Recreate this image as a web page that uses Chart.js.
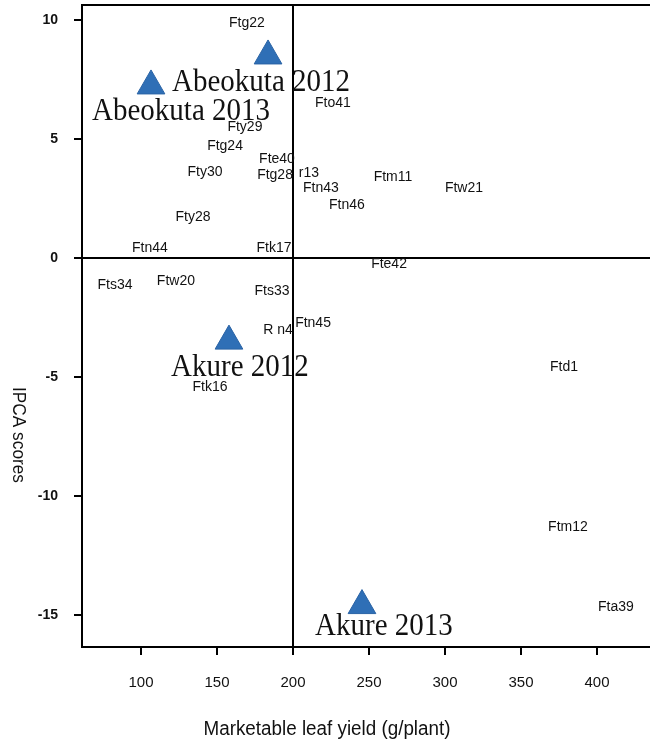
<!DOCTYPE html>
<html>
<head>
<meta charset="utf-8">
<script src="https://cdn.jsdelivr.net/npm/chart.js@4"></script>
<style>
  html, body { margin: 0; padding: 0; background: #fff; }
</style>
</head>
<body>
<canvas id="c" width="650" height="752"></canvas>
<script>
// genotypes (text labels placed at their point)
const genoNames = ['Ftg22', 'Fto41', 'Fty29', 'Ftg24', 'Fte40', 'Fty30', 'Ftg28', 'r13', 'Ftn43',
  'Ftn46', 'Ftm11', 'Ftw21', 'Fty28', 'Ftn44', 'Ftk17', 'Fte42', 'Fts34', 'Ftw20', 'Fts33',
  'Ftn45', 'R n4', 'Ftk16', 'Ftd1', 'Ftm12', 'Fta39'];
const genoYield = [169.7, 226.3, 168.4, 155.3, 189.5, 142.1, 188.2, 210.5, 218.4,
  235.5, 265.8, 312.5, 134.2, 105.9, 187.5, 263.2, 82.9, 123.0, 186.2,
  213.2, 190.1, 145.4, 378.3, 380.9, 412.5];
const genoIPCA = [9.87, 6.51, 5.50, 4.71, 4.16, 3.61, 3.49, 3.57, 2.94,
  2.23, 3.40, 2.94, 1.72, 0.42, 0.42, -0.25, -1.13, -0.97, -1.39,
  -2.73, -3.03, -5.42, -4.58, -11.3, -14.66];

// environments (blue triangles)
const envNames = ['Abeokuta 2012', 'Abeokuta 2013', 'Akure 2012', 'Akure 2013'];
const envYield = [183.6, 106.6, 157.9, 245.4];
const envIPCA = [8.49, 7.23, -3.49, -14.6];

const xTickValues = [100, 150, 200, 250, 300, 350, 400];
const yTickValues = [-15, -10, -5, 0, 5, 10];

// label offsets from the triangle, in px
const envLabelOffset = [[-7, 27], [30, 26], [11, 26], [22, 21]];

const sans = '"Liberation Sans", Arial, sans-serif';

const labelPlugin = {
  id: 'pointLabels',
  afterDatasetsDraw(chart) {
    const ctx = chart.ctx;
    ctx.save();
    ctx.textAlign = 'center';
    ctx.textBaseline = 'middle';
    ctx.fillStyle = '#111';
    ctx.font = '14px ' + sans;
    chart.getDatasetMeta(0).data.forEach((pt, i) => {
      ctx.fillText(genoNames[i], pt.x, pt.y);
    });
    ctx.font = '29px "Liberation Serif", "Times New Roman", serif';
    chart.getDatasetMeta(1).data.forEach((pt, i) => {
      const [dx, dy] = envLabelOffset[i];
      ctx.save();
      ctx.translate(pt.x + dx, pt.y + dy);
      ctx.scale(1, 1.12);
      ctx.fillText(envNames[i], 0, 0);
      ctx.restore();
    });
    ctx.restore();
  },
  afterDraw(chart) {
    const ctx = chart.ctx;
    const area = chart.chartArea;
    ctx.save();
    // top frame line
    ctx.strokeStyle = '#000';
    ctx.lineWidth = 2;
    ctx.beginPath();
    ctx.moveTo(area.left - 1, area.top);
    ctx.lineTo(chart.width, area.top);
    ctx.stroke();

    ctx.fillStyle = '#111';
    ctx.textAlign = 'center';
    ctx.textBaseline = 'middle';
    // y title, reads top to bottom
    ctx.font = '18px ' + sans;
    let txt = 'IPCA scores';
    let w = ctx.measureText(txt).width;
    ctx.save();
    ctx.translate(18, 435);
    ctx.rotate(Math.PI / 2);
    ctx.scale(96 / w, 1);
    ctx.fillText(txt, 0, 0);
    ctx.restore();
    // x title, squeezed
    ctx.font = '20px ' + sans;
    txt = 'Marketable leaf yield (g/plant)';
    w = ctx.measureText(txt).width;
    ctx.save();
    ctx.translate(327, 729);
    ctx.scale(247 / w, 1);
    ctx.fillText(txt, 0, 0);
    ctx.restore();
    ctx.restore();
  }
};

new Chart(document.getElementById('c'), {
  type: 'scatter',
  data: {
    datasets: [
      {
        label: 'Genotypes',
        data: genoYield.map((x, i) => ({ x, y: genoIPCA[i] })),
        pointRadius: 0,
        pointHoverRadius: 0,
      },
      {
        label: 'Environments',
        data: envYield.map((x, i) => ({ x, y: envIPCA[i] })),
        pointStyle: 'triangle',
        pointRadius: 16,
        backgroundColor: '#2f6fb6',
        borderColor: '#2a63a5',
        borderWidth: 1,
      }
    ]
  },
  options: {
    responsive: false,
    devicePixelRatio: 1,
    animation: false,
    layout: { autoPadding: false, padding: { top: 5, right: 0, left: 0, bottom: 0 } },
    plugins: {
      legend: { display: false },
      tooltip: { enabled: false },
    },
    scales: {
      x: {
        type: 'linear',
        min: 61.2,
        max: 434.9,
        afterBuildTicks: (s) => { s.ticks = xTickValues.map(v => ({ value: v })); },
        afterFit: (s) => { s.height = 105; s.paddingLeft = 0; s.paddingRight = 0; },
        grid: {
          color: (c) => (c.tick && c.tick.value === 200 ? '#000' : 'rgba(0,0,0,0)'),
          lineWidth: 2,
          tickColor: '#000',
          tickLength: 8,
          tickWidth: 2,
        },
        border: { display: true, color: '#000', width: 2 },
        ticks: {
          color: '#111',
          padding: 19,
          maxRotation: 0,
          font: { size: 15, family: sans },
        },
      },
      y: {
        type: 'linear',
        min: -16.34,
        max: 10.63,
        afterBuildTicks: (s) => { s.ticks = yTickValues.map(v => ({ value: v })); },
        afterFit: (s) => { s.width = 82; s.paddingTop = 0; s.paddingBottom = 0; },
        grid: {
          color: (c) => (c.tick && c.tick.value === 0 ? '#000' : 'rgba(0,0,0,0)'),
          lineWidth: 2,
          tickColor: '#000',
          tickLength: 8,
          tickWidth: 2,
        },
        border: { display: true, color: '#000', width: 2 },
        ticks: {
          color: '#111',
          padding: 16,
          font: { size: 14, weight: 'bold', family: sans },
        },
      }
    }
  },
  plugins: [labelPlugin]
});
</script>
</body>
</html>
